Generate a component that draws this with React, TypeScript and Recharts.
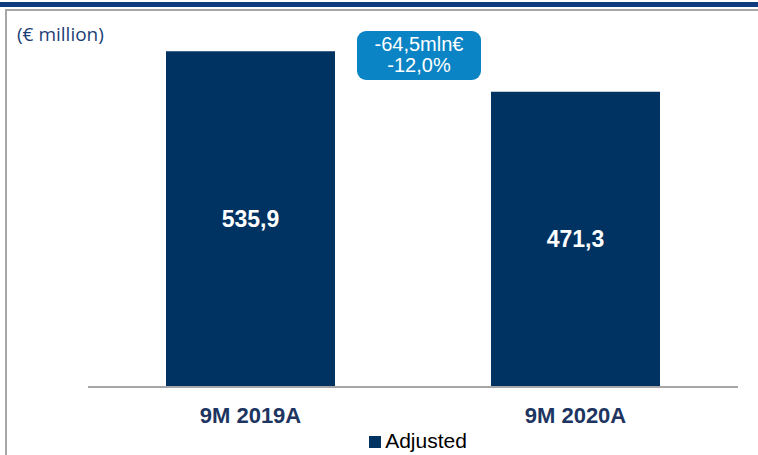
import { BarChart, Bar, XAxis, YAxis, LabelList, Legend } from "recharts";

const categories = ["9M 2019A", "9M 2020A"];
const adjusted = [535.9, 471.3];
const deltaLines = ["-64,5mln€", "-12,0%"];

const data = categories.map((name, i) => ({ name, adjusted: adjusted[i] }));

const BAR = "#003262";
const fmt = (v: number) => v.toFixed(1).replace(".", ",");

export default function App() {
  return (
    <div style={{ position: "absolute", left: 0, top: 0, width: 758, height: 455, background: "#fff", overflow: "hidden" }}>
      {/* top rule + frame */}
      <div style={{ position: "absolute", left: 0, top: 2, width: 758, height: 5, background: "#0f3c7c" }} />
      <div style={{ position: "absolute", left: 5, top: 9, width: 760, height: 460, borderTop: "2px solid #a6a6a6", borderLeft: "2px solid #a6a6a6" }} />
      <div style={{ position: "absolute", left: 17, top: 21, fontFamily: "'Open Sans', sans-serif", fontSize: 19, color: "#1d3f78" }}>
        (€ million)
      </div>

      <BarChart width={758} height={455} data={data} margin={{ top: 11, right: 20, left: 88, bottom: 14 }} barCategoryGap="24%">
        <YAxis hide domain={[0, 600]} />
        <XAxis
          dataKey="name"
          axisLine={{ stroke: "#a6a6a6", strokeWidth: 2 }}
          tickLine={false}
          tickMargin={14}
          tick={{ fill: "#1d3560", fontSize: 22, fontWeight: 700, fontFamily: "Liberation Sans, Arial, sans-serif" }}
        />
        <Legend
          verticalAlign="bottom"
          iconType="square"
          iconSize={12}
          wrapperStyle={{ fontFamily: "Liberation Sans, Arial, sans-serif", fontSize: 21, bottom: 2, left: 98 }}
          formatter={() => <span style={{ color: "#000" }}>Adjusted</span>}
        />
        <Bar dataKey="adjusted" name="Adjusted" fill={BAR} isAnimationActive={false}>
          <LabelList
            dataKey="adjusted"
            position="center"
            formatter={(v: any) => fmt(Number(v))}
            fill="#fff"
            style={{ fontSize: 23, fontWeight: 700, fontFamily: "Liberation Sans, Arial, sans-serif" }}
          />
        </Bar>
      </BarChart>

      <div
        style={{
          position: "absolute",
          left: 357,
          top: 31,
          width: 124,
          height: 49,
          background: "#0a84c4",
          borderRadius: 9,
          color: "#fff",
          fontFamily: "Liberation Sans, Arial, sans-serif",
          fontSize: 20,
          lineHeight: "21px",
          textAlign: "center",
          paddingTop: 3,
          boxSizing: "border-box",
        }}
      >
        {deltaLines.map((l) => (
          <div key={l}>{l}</div>
        ))}
      </div>
    </div>
  );
}
